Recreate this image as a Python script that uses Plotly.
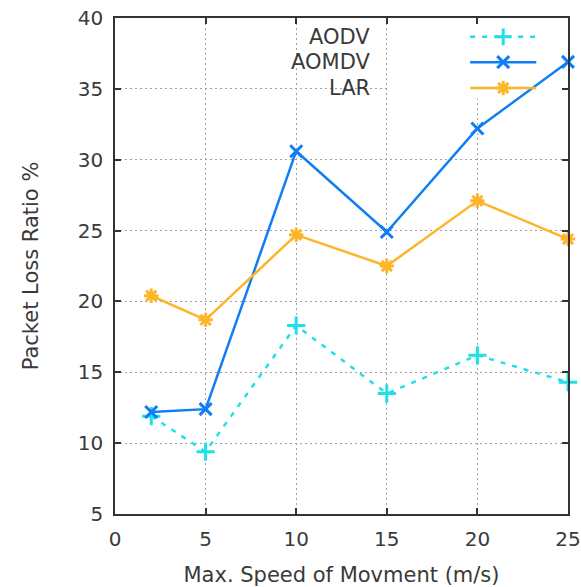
import plotly.graph_objects as go

speeds = [2, 5, 10, 15, 20, 25]
aodv = [11.9, 9.4, 18.3, 13.5, 16.2, 14.3]
aomdv = [12.2, 12.4, 30.6, 24.9, 32.2, 36.9]
lar = [20.4, 18.7, 24.7, 22.5, 27.1, 24.4]

series_names = ["AODV", "AOMDV", "LAR"]
x_ticks = [0, 5, 10, 15, 20, 25]
y_ticks = [5, 10, 15, 20, 25, 30, 35, 40]

C_AODV = "#1fe0e8"
C_AOMDV = "#0f7df5"
C_LAR = "#fdb52a"
FONT = "DejaVu Sans"
TXT = "#3a3a3a"

fig = go.Figure()
fig.add_trace(go.Scatter(x=speeds, y=aodv, mode="lines+markers", name="AODV",
                         line=dict(color=C_AODV, width=2.5, dash="5px,7px"),
                         marker=dict(symbol="cross-thin", size=13, color=C_AODV, line=dict(color=C_AODV, width=3)),
                         showlegend=False, cliponaxis=False))
fig.add_trace(go.Scatter(x=speeds, y=aomdv, mode="lines+markers", name="AOMDV",
                         line=dict(color=C_AOMDV, width=2.5),
                         marker=dict(symbol="x-thin", size=12, color=C_AOMDV, line=dict(color=C_AOMDV, width=3)),
                         showlegend=False, cliponaxis=False))
fig.add_trace(go.Scatter(x=speeds, y=lar, mode="lines+markers", name="LAR",
                         line=dict(color=C_LAR, width=2.5),
                         marker=dict(symbol="asterisk-open", size=12, color=C_LAR, line=dict(color=C_LAR, width=3)),
                         showlegend=False, cliponaxis=False))

# custom legend (text left of sample) on an overlay axis in unit coordinates
leg_y = [0.962, 0.911, 0.859]
leg_colors = [C_AODV, C_AOMDV, C_LAR]
leg_dash = ["5px,7px", "solid", "solid"]
leg_sym = ["cross-thin", "x-thin", "asterisk-open"]
for name, yy, col, dsh, sym in zip(series_names, leg_y, leg_colors, leg_dash, leg_sym):
    fig.add_trace(go.Scatter(x=[0.784, 0.930], y=[yy, yy], mode="lines", xaxis="x2", yaxis="y2",
                             line=dict(color=col, width=2.5, dash=dsh), showlegend=False, hoverinfo="skip"))
    fig.add_trace(go.Scatter(x=[0.857], y=[yy], mode="markers", xaxis="x2", yaxis="y2",
                             marker=dict(symbol=sym, size=12, color=col, line=dict(color=col, width=3)),
                             showlegend=False, hoverinfo="skip"))
    fig.add_annotation(x=0.568, y=yy, xref="x2", yref="y2", text=name, showarrow=False,
                       xanchor="right", yanchor="middle",
                       font=dict(family=FONT, size=21, color=TXT))

# blank the grid behind the key box
fig.add_shape(type="rect", xref="x", yref="y", x0=15.05, x1=24.9, y0=34.3, y1=39.95,
              fillcolor="white", line=dict(width=0), layer="between")

axis_common = dict(showline=True, linecolor="#333333", linewidth=1.5, mirror="ticks",
                   ticks="inside", ticklen=6, tickcolor="#333333", tickwidth=1.5,
                   showgrid=True, gridcolor="#a0a0a0", griddash="2px,3px", gridwidth=1,
                   zeroline=False, automargin=False, ticklabeloverflow="allow",
                   tickfont=dict(family=FONT, size=20, color=TXT))

fig.update_layout(
    width=581, height=587,
    margin=dict(l=115, r=13, t=18, b=73),
    plot_bgcolor="white", paper_bgcolor="white",
    xaxis=dict(range=[0, 25], tickvals=x_ticks, ticklabelstandoff=6,
               title=dict(text="Max. Speed of Movment (m/s)", font=dict(family=FONT, size=21, color=TXT), standoff=19),
               **axis_common),
    yaxis=dict(range=[5, 40], tickvals=y_ticks, ticklabelstandoff=6,
               title=dict(text="Packet Loss Ratio %", font=dict(family=FONT, size=21, color=TXT), standoff=33),
               **axis_common),
    xaxis2=dict(overlaying="x", range=[0, 1], visible=False),
    yaxis2=dict(overlaying="y", range=[0, 1], visible=False),
)

fig.write_html("out.html", config={"displayModeBar": False},
               post_script="document.body.style.margin='0';document.body.style.overflow='hidden';")
